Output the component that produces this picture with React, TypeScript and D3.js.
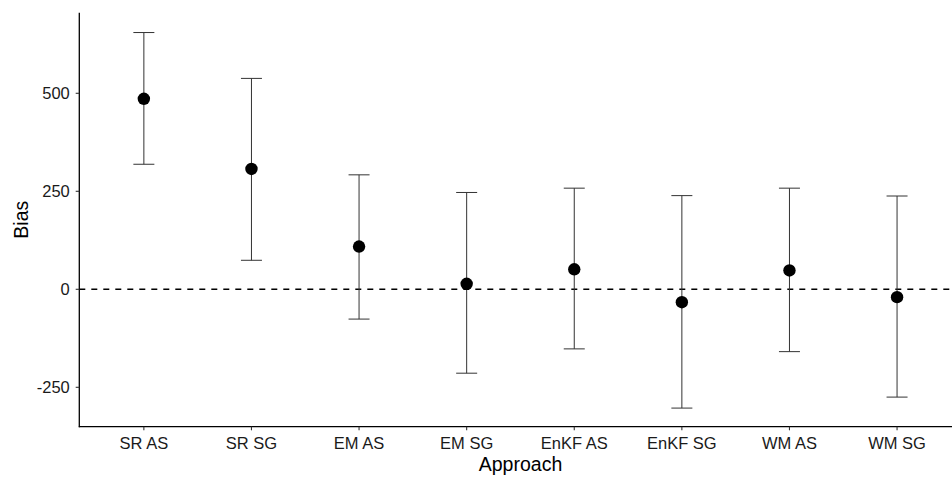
import React from "react";
import * as d3 from "d3";

const categories = ["SR AS", "SR SG", "EM AS", "EM SG", "EnKF AS", "EnKF SG", "WM AS", "WM SG"];
const estimates = [486, 307, 109, 14, 51, -33, 48, -20];
const lowers = [319, 74, -76, -214, -152, -303, -159, -275];
const uppers = [655, 538, 292, 247, 258, 239, 258, 238];
const yTicks = [-250, 0, 250, 500];

const W = 952;
const H = 477;
const left = 79.3;
const top = 12.7;
const bottom = 426.7;

export default function App() {
  const x = d3.scaleLinear().domain([-0.6, categories.length - 1 + 0.6]).range([left, left + 107.6 * (categories.length - 1 + 1.2)]);
  const y = d3.scaleLinear().domain([-350.5, 705.6]).range([bottom, top]);
  const font = "'Liberation Sans', Arial, sans-serif";
  const cap = 10.5;
  return (
    <svg width={W} height={H} style={{ position: "absolute", left: 0, top: 0, background: "#fff" }}>
      <rect x={0} y={0} width={W} height={H} fill="#fff" />
      {/* zero line */}
      <line x1={left} x2={W} y1={y(0)} y2={y(0)} stroke="#000" strokeWidth={1.4} strokeDasharray="6,6" />
      {/* error bars */}
      {categories.map((c, i) => (
        <g key={c} stroke="#333" strokeWidth={1}>
          <line x1={x(i)} x2={x(i)} y1={y(uppers[i])} y2={y(lowers[i])} />
          <line x1={x(i) - cap} x2={x(i) + cap} y1={y(uppers[i])} y2={y(uppers[i])} />
          <line x1={x(i) - cap} x2={x(i) + cap} y1={y(lowers[i])} y2={y(lowers[i])} />
        </g>
      ))}
      {categories.map((c, i) => (
        <circle key={c + "p"} cx={x(i)} cy={y(estimates[i])} r={6.2} fill="#000" />
      ))}
      {/* axes */}
      <line x1={left} x2={left} y1={top} y2={bottom + 0.5} stroke="#000" strokeWidth={1.3} />
      <line x1={left - 0.5} x2={W} y1={bottom} y2={bottom} stroke="#000" strokeWidth={1.3} />
      {yTicks.map((t) => (
        <g key={t}>
          <line x1={left - 3.6} x2={left} y1={y(t)} y2={y(t)} stroke="#333" strokeWidth={1.1} />
          <text x={69.8} y={y(t)} dy="0.36em" textAnchor="end" fontFamily={font} fontSize={16.5} fill="#1a1a1a">
            {t}
          </text>
        </g>
      ))}
      {categories.map((c, i) => (
        <g key={c + "t"}>
          <line x1={x(i)} x2={x(i)} y1={bottom} y2={bottom + 3.6} stroke="#333" strokeWidth={1.1} />
          <text x={x(i)} y={449.3} textAnchor="middle" fontFamily={font} fontSize={16.5} fill="#1a1a1a">
            {c}
          </text>
        </g>
      ))}
      <text x={520.5} y={470.5} textAnchor="middle" fontFamily={font} fontSize={19.5} fill="#000">
        Approach
      </text>
      <text transform={`translate(28.3,${(top + bottom) / 2}) rotate(-90)`} textAnchor="middle" fontFamily={font} fontSize={19.5} fill="#000">
        Bias
      </text>
    </svg>
  );
}
